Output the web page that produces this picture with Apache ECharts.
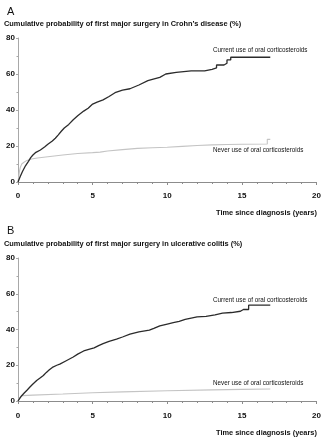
<!DOCTYPE html>
<html>
<head>
<meta charset="utf-8">
<script src="https://cdn.jsdelivr.net/npm/echarts@6/dist/echarts.min.js"></script>
<style>
  html, body { margin: 0; padding: 0; background: #fff; }
  #chart { width: 324px; height: 440px; }
</style>
</head>
<body>
<div id="chart"></div>
<script>
// Cumulative probability (%) of first major surgery by years since diagnosis
const crohnCurrent = [
  [0, 0], [0.15, 3], [0.3, 5.8], [0.5, 9], [0.7, 11.5], [0.85, 13.5], [1.0, 15],
  [1.2, 16.5], [1.5, 17.8], [1.8, 19.6], [2.0, 21], [2.3, 22.8], [2.5, 24.3],
  [2.7, 26.2], [2.9, 28.2], [3.1, 30], [3.4, 32], [3.7, 34.6], [4.0, 36.8],
  [4.4, 39.4], [4.7, 41], [5.0, 43.3], [5.3, 44.4], [5.7, 45.6], [6.1, 47.5],
  [6.5, 49.6], [7.0, 51.1], [7.5, 51.8], [8.1, 53.9], [8.7, 56.3], [9.0, 57],
  [9.5, 58.1], [9.9, 60], [10.6, 60.9], [11.1, 61.3], [11.6, 61.7],
  [12.5, 61.7], [12.5, 62.6], [13.0, 62.6], [13.0, 63.4], [13.3, 63.4],
  [13.3, 65], [13.8, 65], [13.8, 66], [14.0, 66], [14.0, 67.8], [14.25, 67.8],
  [14.25, 69.3], [16.9, 69.3]
];
const crohnNever = [
  [0, 0], [0.05, 3], [0.1, 6], [0.15, 8], [0.25, 10], [0.4, 11], [0.6, 12],
  [0.9, 12.8], [1.3, 13.3], [2.0, 14], [3.0, 15], [4.0, 15.8], [5.0, 16.3],
  [5.5, 16.6], [6.0, 17.2], [7.0, 18], [8.0, 18.7], [9.0, 19], [10.0, 19.3],
  [11.0, 19.8], [12.0, 20.3], [13.0, 20.6], [14.0, 20.8], [15.0, 21],
  [16.7, 21.1], [16.7, 23.7], [16.9, 23.7]
];
const ucCurrent = [
  [0, 0], [0.2, 2.5], [0.4, 4.3], [0.6, 6], [0.8, 7.8], [1.0, 9.5], [1.25, 11.5],
  [1.5, 13], [1.7, 14.3], [1.9, 16], [2.1, 17.5], [2.3, 18.8], [2.6, 20],
  [2.8, 20.6], [3.2, 22.4], [3.7, 24.6], [4.0, 26.2], [4.4, 28], [4.8, 29],
  [5.1, 29.7], [5.4, 31], [5.7, 32.1], [6.1, 33.4], [6.6, 34.6], [7.0, 35.8],
  [7.5, 37.4], [8.1, 38.7], [8.8, 39.6], [9.1, 40.6], [9.5, 42], [10.0, 43],
  [10.4, 43.8], [10.8, 44.5], [11.2, 45.6], [11.6, 46.4], [12.0, 47.1],
  [12.6, 47.3], [13.2, 48.2], [13.7, 49.2], [14.3, 49.5], [14.9, 50.2],
  [15.1, 51.2], [15.45, 51.2], [15.45, 53.6], [16.9, 53.6]
];
const ucNever = [
  [0, 0], [0.1, 1.8], [0.3, 3.0], [1.0, 3.3], [3.0, 3.9], [5.0, 4.6],
  [7.0, 5.1], [10.0, 5.7], [13.0, 6.2], [15.0, 6.5], [16.9, 6.7]
];

const xTicks = { min: 0, max: 20, interval: 5 };
const yTicks = { min: 0, max: 80, interval: 20 };

const panelLetters = ['A', 'B'];
const panelTitles = [
  'Cumulative probability of first major surgery in Crohn\u2019s disease (%)',
  'Cumulative probability of first major surgery in ulcerative colitis (%)'
];
const xAxisTitle = 'Time since diagnosis (years)';
const currentLabel = 'Current use of oral corticosteroids';
const neverLabel = 'Never use of oral corticosteroids';

const FONT = '"Liberation Sans", Arial, Helvetica, sans-serif';
const AXIS_GREY = '#a8a8a8';

function makeXAxis(gridIndex, offset) {
  return {
    type: 'value', gridIndex, min: xTicks.min, max: xTicks.max, interval: xTicks.interval,
    offset,
    axisLine: { lineStyle: { color: '#8c8c8c', width: 1 } },
    axisTick: { length: 3, lineStyle: { color: '#8c8c8c' } },
    minorTick: { show: true, splitNumber: 5, length: 2, lineStyle: { color: '#8c8c8c' } },
    splitLine: { show: false },
    axisLabel: { color: '#111', fontFamily: FONT, fontWeight: 'bold', fontSize: 8, margin: 5 }
  };
}
function makeYAxis(gridIndex) {
  return {
    type: 'value', gridIndex, min: yTicks.min, max: yTicks.max, interval: yTicks.interval,
    offset: 1,
    axisLine: { show: true, lineStyle: { color: AXIS_GREY, width: 1 } },
    axisTick: { show: true, length: 2, lineStyle: { color: AXIS_GREY } },
    minorTick: { show: true, splitNumber: 2, length: 1.5, lineStyle: { color: AXIS_GREY } },
    splitLine: { show: false },
    axisLabel: { color: '#111', fontFamily: FONT, fontWeight: 'bold', fontSize: 8, margin: 2 }
  };
}
function curve(data, idx, color, width, z) {
  return {
    type: 'line', xAxisIndex: idx, yAxisIndex: idx, data,
    showSymbol: false, symbol: 'none', clip: false,
    lineStyle: { color, width }, z
  };
}
function text(str, x, y, size, weight) {
  return {
    type: 'text', left: x, top: y,
    style: { text: str, fill: '#111', font: `${weight} ${size}px ${FONT}` }
  };
}

const chart = echarts.init(document.getElementById('chart'), null, { renderer: 'canvas' });
chart.setOption({
  animation: false,
  backgroundColor: '#fff',
  grid: [
    { left: 18, top: 38, width: 300, height: 144 },
    { left: 18, top: 258, width: 300, height: 143 }
  ],
  xAxis: [makeXAxis(0, 5), makeXAxis(1, 6)],
  yAxis: [makeYAxis(0), makeYAxis(1)],
  series: [
    curve(crohnNever, 0, '#c4c4c4', 1.1, 2),
    curve(crohnCurrent, 0, '#2b2b2b', 1.3, 3),
    curve(ucNever, 1, '#c4c4c4', 1.1, 2),
    curve(ucCurrent, 1, '#2b2b2b', 1.3, 3)
  ],
  graphic: [
    text(panelLetters[0], 7, 6, 11, 'normal'),
    text(panelTitles[0], 4, 20, 7.4, 'bold'),
    text(xAxisTitle, 216, 209, 7.4, 'bold'),
    text(currentLabel, 213, 47, 6.3, 'normal'),
    text(neverLabel, 213, 147, 6.3, 'normal'),
    text(panelLetters[1], 7, 225, 11, 'normal'),
    text(panelTitles[1], 4, 240, 7.4, 'bold'),
    text(xAxisTitle, 216, 429, 7.4, 'bold'),
    text(currentLabel, 213, 297, 6.3, 'normal'),
    text(neverLabel, 213, 380, 6.3, 'normal')
  ]
});
</script>
</body>
</html>
